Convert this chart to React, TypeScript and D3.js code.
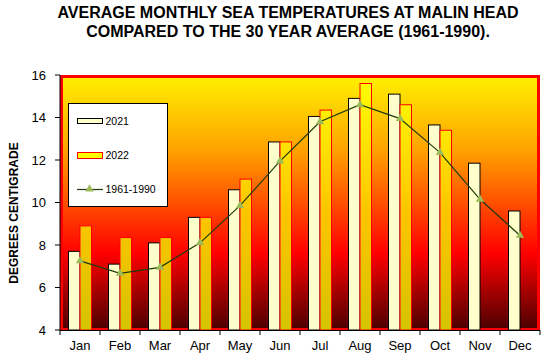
import React from "react";
import * as d3 from "d3";

const months = ["Jan", "Feb", "Mar", "Apr", "May", "Jun", "Jul", "Aug", "Sep", "Oct", "Nov", "Dec"];
const temps2021 = [7.7, 7.1, 8.1, 9.3, 10.6, 12.85, 14.05, 14.9, 15.1, 13.65, 11.85, 9.6];
const temps2022: (number | null)[] = [8.9, 8.35, 8.35, 9.3, 11.1, 12.85, 14.35, 15.6, 14.6, 13.4, null, null];
const avg1961 = [7.25, 6.67, 6.95, 8.1, 9.85, 11.95, 13.8, 14.6, 13.95, 12.35, 10.15, 8.45];
const yTicks = [4, 6, 8, 10, 12, 14, 16];
const titleLines = ["AVERAGE MONTHLY SEA TEMPERATURES AT MALIN HEAD", "COMPARED TO THE 30 YEAR AVERAGE (1961-1990)."];
const yLabel = "DEGREES CENTIGRADE";
const legendLabels = ["2021", "2022", "1961-1990"];

const W = 549;
const H = 356;
const plot = { left: 60, right: 540, top: 75, bottom: 330 };
const font = "'Liberation Sans', Arial, Helvetica, sans-serif";

export default function App() {
  const x = d3
    .scaleBand<string>()
    .domain(months)
    .range([plot.left, plot.right])
    .paddingInner(0.425)
    .paddingOuter(0.2125);
  const step = x.step();
  const xs = d3.scaleBand<string>().domain(["2021", "2022"]).range([0, x.bandwidth()]);
  const y = d3.scaleLinear().domain([4, 16]).range([plot.bottom, plot.top]);

  const line = d3
    .line<number>()
    .x((_, i) => (x(months[i]) as number) + x.bandwidth() / 2)
    .y((d) => y(d));

  const tri = d3.symbol().type(d3.symbolTriangle).size(30)();

  return (
    <svg
      width={W}
      height={H}
      style={{ position: "fixed", left: 0, top: 0, background: "#fff" }}
      fontFamily={font}
    >
      <defs>
        <linearGradient id="bg" gradientUnits="userSpaceOnUse" x1="0" y1={plot.top} x2="0" y2={plot.bottom}>
          <stop offset="0" stopColor="#FFF200" />
          <stop offset="0.3" stopColor="#FFA000" />
          <stop offset="0.7" stopColor="#FF0000" />
          <stop offset="1" stopColor="#4A0000" />
        </linearGradient>
        <linearGradient id="bar22" gradientUnits="userSpaceOnUse" x1="0" y1={plot.top} x2="0" y2={plot.bottom}>
          <stop offset="0" stopColor="#FFFF00" />
          <stop offset="0.55" stopColor="#FFC400" />
          <stop offset="1" stopColor="#D4C400" />
        </linearGradient>
      </defs>

      {titleLines.map((t, i) => (
        <text
          key={t}
          x={288}
          y={18 + i * 19}
          textAnchor="middle"
          fontWeight="bold"
          fontSize={16}
          fill="#000"
        >
          {t}
        </text>
      ))}

      <rect
        x={plot.left}
        y={plot.top}
        width={plot.right - plot.left}
        height={plot.bottom - plot.top}
        fill="url(#bg)"
      />
      <rect
        x={plot.left + 1.5}
        y={plot.top + 1.5}
        width={plot.right - plot.left - 3}
        height={plot.bottom - plot.top - 2}
        fill="none"
        stroke="#FF0000"
        strokeWidth={3}
      />

      {months.map((m, i) => {
        const x0 = x(m) as number;
        const v1 = temps2021[i];
        const v2 = temps2022[i];
        return (
          <g key={m}>
            <rect
              x={x0 + (xs("2021") as number)}
              y={y(v1)}
              width={xs.bandwidth()}
              height={y(4) - y(v1)}
              fill="#FFFFCC"
              stroke="#000"
              strokeWidth={1}
            />
            {v2 != null && (
              <rect
                x={x0 + (xs("2022") as number)}
                y={y(v2)}
                width={xs.bandwidth()}
                height={y(4) - y(v2)}
                fill="url(#bar22)"
                stroke="#FF0000"
                strokeWidth={1}
              />
            )}
          </g>
        );
      })}

      <path d={line(avg1961) || ""} fill="none" stroke="#1F3A0C" strokeWidth={1.2} />
      {avg1961.map((v, i) => (
        <path
          key={i}
          d={tri || ""}
          transform={`translate(${(x(months[i]) as number) + x.bandwidth() / 2},${y(v)})`}
          fill="#9BBB59"
        />
      ))}

      {/* axes */}
      <line x1={plot.left} x2={plot.left} y1={plot.top} y2={plot.bottom} stroke="#000" />
      <line x1={plot.left} x2={plot.right} y1={plot.bottom + 0.5} y2={plot.bottom + 0.5} stroke="#000" />
      {yTicks.map((t) => (
        <g key={t}>
          <line x1={plot.left - 5} x2={plot.left} y1={y(t)} y2={y(t)} stroke="#000" />
          <text x={plot.left - 14} y={y(t)} dy="0.35em" textAnchor="end" fontSize={13} fill="#000">
            {t}
          </text>
        </g>
      ))}
      {d3.range(months.length + 1).map((i) => (
        <line
          key={i}
          x1={plot.left + i * step}
          x2={plot.left + i * step}
          y1={plot.bottom}
          y2={plot.bottom + 5}
          stroke="#000"
        />
      ))}
      {months.map((m) => (
        <text
          key={m}
          x={(x(m) as number) + x.bandwidth() / 2}
          y={350}
          textAnchor="middle"
          fontSize={13}
          fill="#000"
        >
          {m}
        </text>
      ))}

      <text
        transform={`translate(17.5,${213}) rotate(-90)`}
        textAnchor="middle"
        fontWeight="bold"
        fontSize={12}
        fill="#000"
      >
        {yLabel}
      </text>

      {/* legend */}
      <rect x={68.5} y={103.5} width={99} height={103} fill="#fff" stroke="#000" strokeWidth={1} />
      <rect x={77.5} y={118.5} width={25} height={5} fill="#FFFFCC" stroke="#000" />
      <rect x={77.5} y={152.5} width={25} height={6} fill="#FFFF00" stroke="#FF0000" />
      <line x1={77} x2={103} y1={189.5} y2={189.5} stroke="#1F3A0C" strokeWidth={1.2} />
      <path d={tri || ""} transform="translate(89.5,189)" fill="#9BBB59" />
      {legendLabels.map((l, i) => (
        <text key={l} x={105.5} y={[125, 158.5, 192.5][i]} fontSize={10.5} fill="#000">
          {l}
        </text>
      ))}
    </svg>
  );
}
